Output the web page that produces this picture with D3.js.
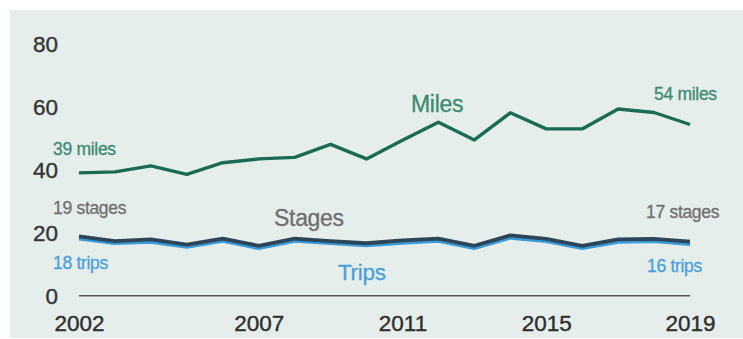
<!DOCTYPE html>
<html><head><meta charset="utf-8">
<script src="https://cdn.jsdelivr.net/npm/d3@7"></script>
<style>html,body{margin:0;padding:0;background:#fff;}svg{display:block;}</style>
</head><body>
<script>
const years = d3.range(2002, 2020);
const miles  = [38.9,39.2,41.1,38.4,42.1,43.3,43.8,47.9,43.3,49.2,54.9,49.3,57.9,52.8,52.8,59.1,58.0,54.2];
const stages = [18.8,17.3,17.8,16.2,18.1,15.8,18.1,17.3,16.6,17.5,18.1,15.8,19.1,18.0,15.8,17.8,18.0,17.1];
const trips  = [18.0,16.6,17.0,15.4,17.3,15.0,17.3,16.6,15.9,16.7,17.3,15.0,18.3,17.2,15.0,17.0,17.2,16.3];
const yTicks = [0,20,40,60,80];
const xTicks = [2002,2007,2011,2015,2019];

const W = 743, H = 339;
const svg = d3.select("body").append("svg").attr("width", W).attr("height", H);
svg.append("rect").attr("x",10).attr("y",10).attr("width",W-10).attr("height",H-11).attr("fill","#e6eeeb");

const x = d3.scaleLinear().domain([2002,2019]).range([79,690]);
const y = d3.scaleLinear().domain([0,80]).range([295.7,43]);
const font = "'Liberation Sans', Arial, sans-serif";

// y tick labels
const yAxis = d3.axisLeft(y).tickValues(yTicks).tickSize(0).tickPadding(0);
const gy = svg.append("g").attr("transform","translate(58,0)").call(yAxis);
gy.select(".domain").remove();
gy.selectAll("text").attr("font-family",font).attr("font-size",22.5).attr("fill","#353535")
  .attr("stroke","#353535").attr("stroke-width",0.4).attr("dy","0.36em");

// x tick labels
const xAxis = d3.axisBottom(x).tickValues(xTicks).tickFormat(d3.format("d")).tickSize(0).tickPadding(0);
const gx = svg.append("g").attr("transform","translate(0,314)").call(xAxis);
gx.select(".domain").remove();
gx.selectAll("text").attr("font-family",font).attr("font-size",22.5).attr("fill","#2e2e2e")
  .attr("stroke","#2e2e2e").attr("stroke-width",0.4).attr("dy","0.75em");

// zero line
svg.append("line").attr("x1",x(2002)).attr("x2",x(2019)).attr("y1",y(0)).attr("y2",y(0))
  .attr("stroke","#555").attr("stroke-width",1.6);

const line = d3.line().x((d,i)=>x(years[i])).y(d=>y(d));
svg.append("path").datum(trips).attr("d",line).attr("fill","none")
  .attr("stroke","#3a9ad8").attr("stroke-width",3.5).attr("stroke-linejoin","round");
svg.append("path").datum(stages).attr("d",line).attr("fill","none")
  .attr("stroke","#2c4558").attr("stroke-width",3.8).attr("stroke-linejoin","round");
svg.append("path").datum(miles).attr("d",line).attr("fill","none")
  .attr("stroke","#1b6a52").attr("stroke-width",3.4).attr("stroke-linejoin","round");

const green = "#3d8a72", gray = "#6f6f6f", blue = "#4a9fdb";
const labels = [
  {t:"39 miles", x:53, y:155, s:17.5, c:green},
  {t:"Miles", x:411, y:112, s:23, c:green},
  {t:"54 miles", x:654, y:100, s:17.5, c:green},
  {t:"19 stages", x:53, y:214, s:17.5, c:gray},
  {t:"Stages", x:274, y:226, s:23, c:gray},
  {t:"17 stages", x:646, y:218, s:17.5, c:gray},
  {t:"18 trips", x:53, y:269, s:17.5, c:blue},
  {t:"Trips", x:338, y:280, s:22.5, c:blue},
  {t:"16 trips", x:647, y:272, s:17.5, c:blue}
];
svg.selectAll("text.lbl").data(labels).enter().append("text").attr("class","lbl")
  .attr("x",d=>d.x).attr("y",d=>d.y).attr("font-family",font).attr("font-size",d=>d.s)
  .attr("letter-spacing",-0.3)
  .attr("fill",d=>d.c).attr("stroke",d=>d.c).attr("stroke-width",0.3).text(d=>d.t);
</script>
</body></html>
